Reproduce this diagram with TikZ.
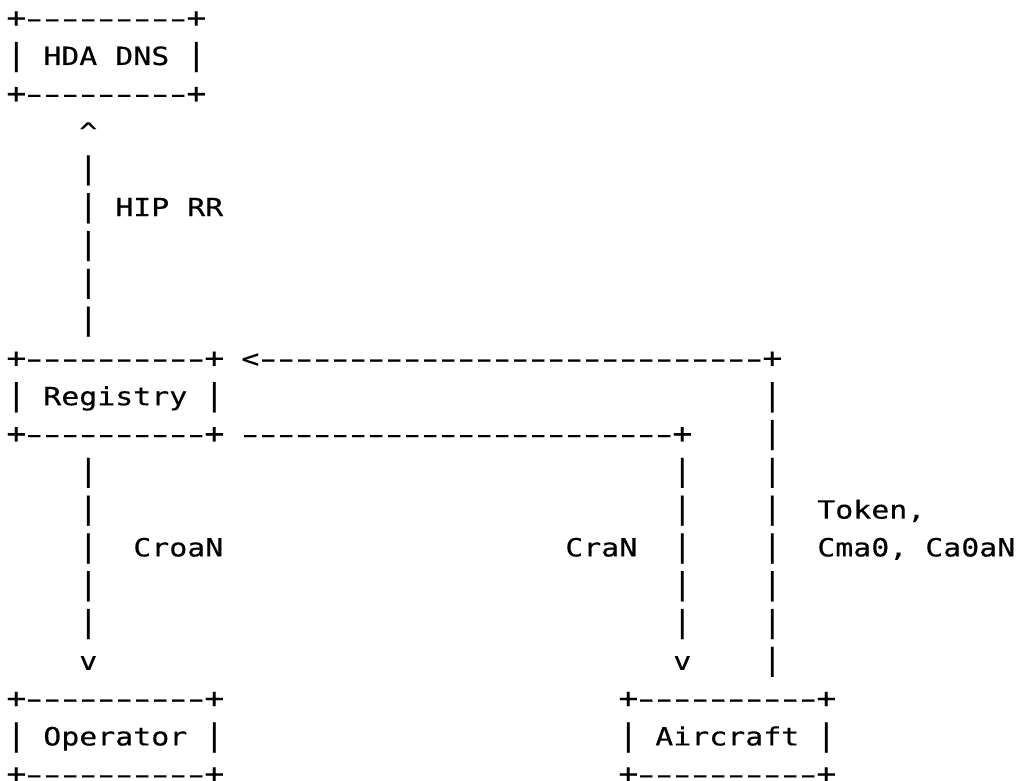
\documentclass[tikz,border=0pt]{standalone}
\usepackage{fontspec}
\usepackage{graphicx}
\newfontfamily\gridfont[FakeStretch=1.19,FakeBold=0.4]{DejaVu Sans Mono}
\ExplSyntaxOn
\dim_new:N \g_grid_pitch_dim
\dim_gset:Nn \g_grid_pitch_dim {13.5pt}
\cs_new:Npn \grid_char:n #1
  {
    \str_case:nnF {#1}
      {
        { - } { \scalebox{1.6}[1]{-} }
        { | } { \scalebox{1}[1.2]{|} }
        { + } { \scalebox{1.1}{+} }
      }
      { #1 }
  }
\NewDocumentCommand\gridtext{m}{
  \str_map_inline:nn {#1} { \hbox_to_wd:nn {\g_grid_pitch_dim} { \hss \grid_char:n {##1} \hss } }
}
\ExplSyntaxOff
% #1 name, #2 column, #3 row, #4 text
\newcommand\gridnode[4]{\node[gtxt] (#1) at ({7.3+18*#2},{27.2+37.8*#3}) {\gridtext{#4}};}
\tikzset{gtxt/.style={anchor=base west, inner sep=0pt, outer sep=0pt, text=black, font=\gridfont\fontsize{18.8pt}{22pt}\selectfont}}
\begin{document}
\begin{tikzpicture}[x=0.75pt,y=-0.75pt]
\path[use as bounding box, fill=white] (0,0) rectangle (1021,781);
% HDA DNS box
\gridnode{hdaTop}{0}{0}{+---------+}
\gridnode{hda}{0}{1}{| HDA DNS |}
\gridnode{hdaBot}{0}{2}{+---------+}
% HIP RR link
\gridnode{hipHead}{4}{3}{^}
\gridnode{hipA}{4}{4}{|}
\gridnode{hipB}{4}{5}{| HIP RR}
\gridnode{hipC}{4}{6}{|}
\gridnode{hipD}{4}{7}{|}
\gridnode{hipE}{4}{8}{|}
% Registry box and top arrow
\gridnode{regTop}{0}{9}{+----------+}
\gridnode{tokArrow}{13}{9}{<----------------------------+}
\gridnode{reg}{0}{10}{| Registry |}
\gridnode{tokA}{42}{10}{|}
\gridnode{regBot}{0}{11}{+----------+}
\gridnode{craTop}{13}{11}{------------------------+}
\gridnode{tokB}{42}{11}{|}
% vertical links
\gridnode{croA}{4}{12}{|}
\gridnode{craA}{37}{12}{|}
\gridnode{tokC}{42}{12}{|}
\gridnode{croB}{4}{13}{|}
\gridnode{craB}{37}{13}{|}
\gridnode{tokD}{42}{13}{|}
\gridnode{tokLabA}{45}{13}{Token,}
\gridnode{croC}{4}{14}{|}
\gridnode{croLab}{7}{14}{CroaN}
\gridnode{craLab}{31}{14}{CraN}
\gridnode{craC}{37}{14}{|}
\gridnode{tokE}{42}{14}{|}
\gridnode{tokLabB}{45}{14}{Cma0, Ca0aN}
\gridnode{croD}{4}{15}{|}
\gridnode{craD}{37}{15}{|}
\gridnode{tokF}{42}{15}{|}
\gridnode{croE}{4}{16}{|}
\gridnode{craE}{37}{16}{|}
\gridnode{tokG}{42}{16}{|}
\gridnode{croHead}{4}{17}{v}
\gridnode{craHead}{37}{17}{v}
\gridnode{tokH}{42}{17}{|}
% Operator and Aircraft boxes
\gridnode{opTop}{0}{18}{+----------+}
\gridnode{acTop}{34}{18}{+----------+}
\gridnode{op}{0}{19}{| Operator |}
\gridnode{ac}{34}{19}{| Aircraft |}
\gridnode{opBot}{0}{20}{+----------+}
\gridnode{acBot}{34}{20}{+----------+}
\end{tikzpicture}
\end{document}
